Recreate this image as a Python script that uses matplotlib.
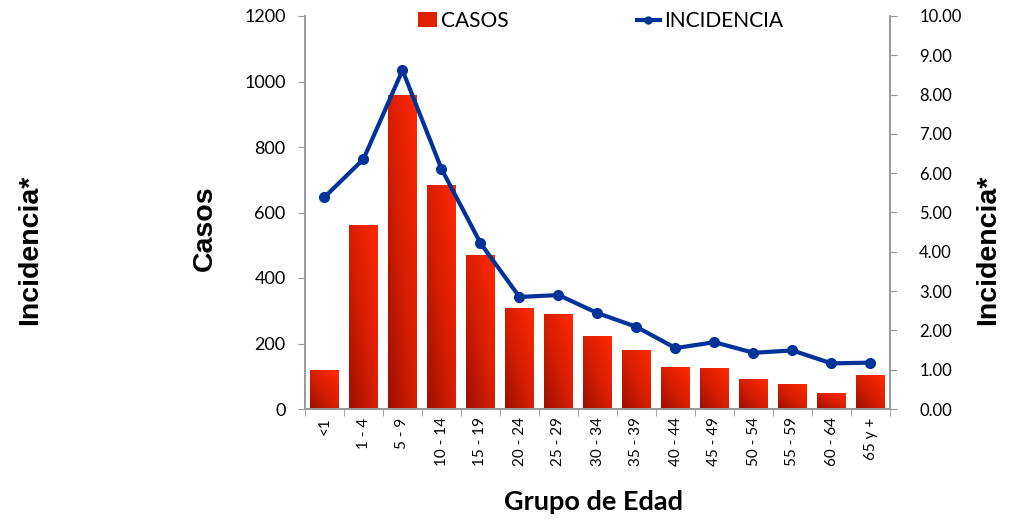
import matplotlib
matplotlib.use("Agg")
import matplotlib.pyplot as plt
import numpy as np
from matplotlib.colors import LinearSegmentedColormap
from matplotlib.lines import Line2D
from matplotlib.patches import Patch

categories = ["<1", "1 - 4", "5 - 9", "10 - 14", "15 - 19", "20 - 24", "25 - 29",
              "30 - 34", "35 - 39", "40 - 44", "45 - 49", "50 - 54", "55 - 59",
              "60 - 64", "65 y +"]
casos = [119, 562, 958, 684, 470, 308, 290, 223, 180, 128, 125, 92, 76, 49, 104]
incidencia = [5.39, 6.36, 8.62, 6.11, 4.22, 2.85, 2.90, 2.44, 2.09, 1.55, 1.70,
              1.43, 1.49, 1.16, 1.18]

plt.rcParams['font.family'] = ["Lato", 'DejaVu Sans']
bold_font = ["Liberation Sans", "DejaVu Sans"]

fig = plt.figure(figsize=(10.11, 5.19), dpi=100)
ax = fig.add_axes([305/1011, 1-409/519, (890-305)/1011, (409-16)/519])
ax2 = ax.twinx()

x = np.arange(len(categories))
bars = ax.bar(x, casos, width=0.74, color="#e82200", zorder=2)

cmap = LinearSegmentedColormap.from_list("rg", ["#9e1000", "#d81e00", "#ff2a00"])
grad = np.add.outer(np.linspace(1, 0, 64), np.linspace(0, 1, 64)) / 2.0
for b in bars:
    bx, by = b.get_x(), b.get_y()
    w, h = b.get_width(), b.get_height()
    im = ax.imshow(grad, cmap=cmap, extent=[bx, bx + w, by, by + h],
                   aspect="auto", origin="upper", zorder=2, interpolation="bilinear")
    im.set_clip_path(b)
    b.set_facecolor("none")
    b.set_edgecolor("none")

ax.set_xlim(-0.5, len(categories) - 0.5)
ax.set_ylim(0, 1200)
ax.set_yticks(range(0, 1201, 200))
ax2.plot(x, incidencia, color="#003399", lw=3, marker="o", ms=7, zorder=3)
ax2.set_ylim(0, 10)
ax2.set_yticks(np.arange(0, 10.01, 1))
ax2.set_yticklabels([f"{v:.2f}" for v in np.arange(0, 10.01, 1)])

ax.set_xticks(x)
ax.set_xticklabels(categories, rotation=90, fontsize=11)
ax.set_xticks(np.arange(-0.5, len(categories), 1), minor=True)
ax.tick_params(axis="x", which="major", length=0, pad=6)
ax.tick_params(axis="x", which="minor", length=5, color="#999999", direction="out")
ax.tick_params(axis="y", length=5, color="#999999", labelsize=13, pad=9)
ax2.tick_params(axis="y", length=5, color="#999999", labelsize=12, pad=16)

for a in (ax, ax2):
    a.spines["top"].set_visible(False)
    for s in ("left", "right", "bottom"):
        a.spines[s].set_color("#999999")
        a.spines[s].set_linewidth(1.2)

ax.set_zorder(1)
ax2.set_zorder(2)
ax.patch.set_visible(False)

fig.text(593/1011, 1-502/519, "Grupo de Edad", ha="center", va="center",
         fontsize=19.5, fontweight="bold")
fig.text(205/1011, 1-228/519, "Casos", ha="center", va="center", rotation=90,
         fontsize=20.5, fontweight="bold", family=bold_font)
fig.text(30/1011, 1-250/519, "Incidencia*", ha="center", va="center", rotation=90,
         fontsize=20.5, fontweight="bold", family=bold_font)
fig.text(988/1011, 1-250/519, "Incidencia*", ha="center", va="center", rotation=90,
         fontsize=20.5, fontweight="bold", family=bold_font)

leg1 = fig.legend([Patch(facecolor="#e02000", edgecolor="none")], ["CASOS"],
                  loc="center left", bbox_to_anchor=(418/1011, 1-21/519),
                  frameon=False, fontsize=15, handlelength=0.9, handleheight=0.75,
                  handletextpad=0.2, borderpad=0, borderaxespad=0)
leg2 = fig.legend([Line2D([0], [0], color="#003399", lw=3, marker="o", ms=5)],
                  ["INCIDENCIA"], loc="center left",
                  bbox_to_anchor=(637/1011, 1-21/519),
                  frameon=False, fontsize=15, handlelength=1.1,
                  handletextpad=0.2, borderpad=0, borderaxespad=0)

fig.savefig("out.png", dpi=100)
